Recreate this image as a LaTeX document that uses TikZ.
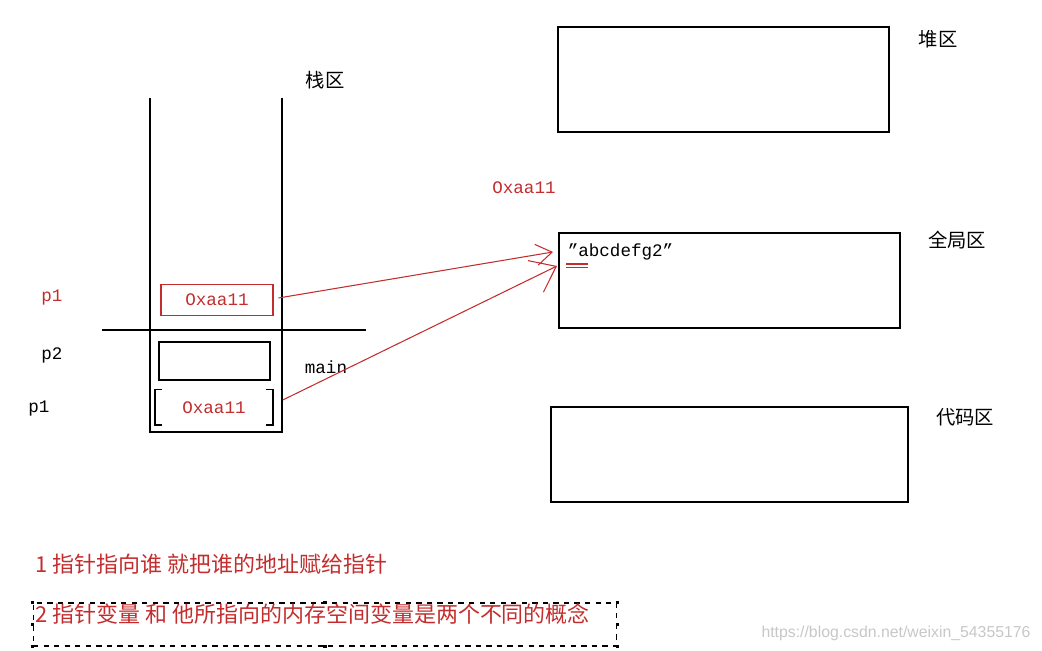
\documentclass[tikz,border=0pt]{standalone}
\usepackage{fontspec}
\setmainfont{Liberation Sans}
\setmonofont{Liberation Mono}
\newfontfamily\cjk{Noto Sans CJK SC}
\usetikzlibrary{arrows.meta}
\definecolor{ink}{RGB}{195,45,45}

\begin{document}
\begin{tikzpicture}[x=0.02cm,y=-0.02cm,line width=0.9pt,
  every node/.style={inner sep=0pt},
  mono/.style={font=\ttfamily\fontsize{10}{12}\selectfont},
  zone/.style={font=\cjk\fontsize{11}{13}\selectfont},
  note/.style={anchor=west,text=ink,font=\cjk\fontsize{12.5}{14}\selectfont},
  ptr/.style={ink,line width=0.6pt}]
\useasboundingbox (0,0) rectangle (1042,651);
% stack frame
\draw (150,98) -- (150,432) -- (282,432) -- (282,98);
\draw (102,330) -- (366,330);
\node[zone] (stk) at (325,80) {栈区};
\node[mono,draw=ink,line width=0.6pt,text=ink,minimum width=2.24cm,minimum height=0.62cm] (a) at (217,300) {Oxaa11};
\node[draw,minimum width=2.22cm,minimum height=0.76cm] (b) at (214.5,361) {};
\node[mono,text=ink,minimum width=2.32cm,minimum height=0.7cm] (c) at (214,408) {Oxaa11};
\draw (c.north west) ++(7,0) -- ++(-7,0) |- ++(7,35);
\draw (c.north east) ++(-7,0) -- ++(7,0) |- ++(-7,35);
\node[mono,text=ink] (la) at (52,298) {p1};
\node[mono] (lb) at (52,355) {p2};
\node[mono] (lc) at (39,409) {p1};
\node[mono] (fn) at (326,367) {main};
% memory areas
\node[draw,minimum width=6.62cm,minimum height=2.1cm] (heap) at (723.5,79.5) {};
\node[zone] (lheap) at (938,39) {堆区};
\node[draw,minimum width=6.82cm,minimum height=1.9cm] (glob) at (729.5,280.5) {};
\node[zone] (lglob) at (957,240) {全局区};
\node[mono,anchor=west] (str) at (567,252) {”abcdefg2”};
\node[draw,minimum width=7.14cm,minimum height=1.9cm] (code) at (729.5,454.5) {};
\node[zone] (lcode) at (965,417) {代码区};
\node[mono,text=ink] (addr) at (524,188) {Oxaa11};
\draw[ptr] (566,264) -- (588,264) (566,267.5) -- (588,267.5);
% pointers
\coordinate (tipA) at (553,252);
\coordinate (tipB) at (557,266);
\draw[ptr,-{Straight Barb[length=9pt,width=12pt]}] (a.east) ++(5,-2) -- (tipA);
\draw[ptr,-{Straight Barb[length=13pt,width=20pt]}] (c.east) ++(10,-8) -- (tipB);
% notes
\node[note] (n1) at (35,564) {1 指针指向谁 就把谁的地址赋给指针};
\node[draw,dashed,line width=0.6pt,minimum width=11.68cm,minimum height=0.86cm] (box2) at (325,624.5) {};
\foreach \p in {north west,north,north east,east,south east,south,south west,west}
  \node[fill,minimum size=2pt] at (box2.\p) {};
\node[note] (n2) at (35,614) {2 指针变量 和 他所指向的内存空间变量是两个不同的概念};
\node[text=black!22,font=\fontsize{9}{11}\selectfont] (wm) at (896,633) {https://blog.csdn.net/weixin\_54355176};
\end{tikzpicture}
\end{document}
